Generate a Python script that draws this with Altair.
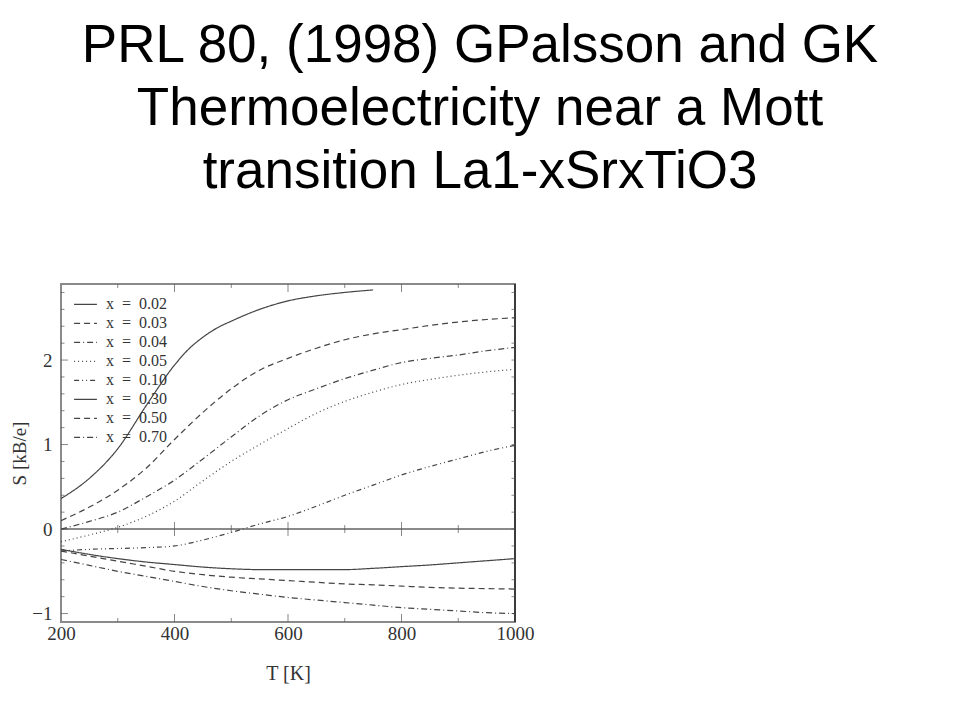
import altair as alt
import pandas as pd

# ---- data ----
T_full = [200, 250, 300, 350, 400, 450, 500, 550, 600, 650, 700, 750, 800, 850, 900, 950, 1000]
T_002 = [200, 250, 300, 350, 400, 425, 450, 475, 500, 550, 600, 650, 700, 750]

s_002 = [0.36, 0.60, 0.95, 1.46, 1.94, 2.13, 2.27, 2.38, 2.46, 2.60, 2.70, 2.76, 2.80, 2.83]
s_003 = [0.10, 0.26, 0.46, 0.72, 1.06, 1.38, 1.66, 1.88, 2.02, 2.14, 2.24, 2.31, 2.36, 2.41, 2.45, 2.48, 2.50]
s_004 = [0.00, 0.09, 0.20, 0.38, 0.58, 0.83, 1.09, 1.34, 1.53, 1.66, 1.78, 1.88, 1.97, 2.02, 2.06, 2.11, 2.15]
s_005 = [-0.15, -0.07, 0.02, 0.15, 0.33, 0.57, 0.80, 1.00, 1.19, 1.37, 1.51, 1.62, 1.71, 1.77, 1.82, 1.86, 1.89]
s_010 = [-0.26, -0.24, -0.23, -0.22, -0.20, -0.13, -0.04, 0.06, 0.15, 0.27, 0.40, 0.52, 0.64, 0.74, 0.83, 0.92, 0.99]
s_030 = [-0.24, -0.30, -0.35, -0.39, -0.42, -0.45, -0.47, -0.48, -0.48, -0.48, -0.48, -0.465, -0.445, -0.425, -0.40, -0.375, -0.35]
s_050 = [-0.26, -0.32, -0.38, -0.44, -0.50, -0.54, -0.57, -0.59, -0.61, -0.63, -0.65, -0.66, -0.675, -0.69, -0.70, -0.705, -0.71]
s_070 = [-0.36, -0.43, -0.50, -0.56, -0.62, -0.68, -0.73, -0.77, -0.81, -0.84, -0.87, -0.90, -0.93, -0.95, -0.97, -0.99, -1.00]

labels = ["x\u2002=\u20020.02", "x\u2002=\u20020.03", "x\u2002=\u20020.04", "x\u2002=\u20020.05",
          "x\u2002=\u20020.10", "x\u2002=\u20020.30", "x\u2002=\u20020.50", "x\u2002=\u20020.70"]
dashes = [[1, 0], [6, 4], [6, 3, 1, 3], [1, 3], [5, 3, 1, 3, 1, 3], [1, 0], [6, 4], [6, 3, 1, 3]]

x_tick_vals = [200, 400, 600, 800, 1000]
y_tick_vals = [-1, 0, 1, 2]
x_minor = [300, 400, 500, 600, 700, 800, 900]
x_minor_major = [0, 1, 0, 1, 0, 1, 0]
y_minor = [-1.0, -0.8, -0.6, -0.4, -0.2, 0.0, 0.2, 0.4, 0.6, 0.8, 1.0, 1.2, 1.4, 1.6,
           1.8, 2.0, 2.2, 2.4, 2.6, 2.8]

title_lines = ["PRL 80, (1998) GPalsson and GK",
               "Thermoelectricity near a Mott",
               "transition La1-xSrxTiO3"]

# ---- tables ----
series = [s_002, s_003, s_004, s_005, s_010, s_030, s_050, s_070]
rows = []
for lab, vals in zip(labels, series):
    ts = T_002 if len(vals) == len(T_002) else T_full
    for t, v in zip(ts, vals):
        rows.append({"T": t, "S": v, "series": lab})
df = pd.DataFrame(rows)

xt = pd.DataFrame({"T": x_minor, "major": x_minor_major})
xt["len_edge"] = [16 if m else 8 for m in x_minor_major]
xt["len_zero"] = [14 if m else 8 for m in x_minor_major]
yt = pd.DataFrame({"S": y_minor})
yt["len"] = [14 if abs(v - round(v)) < 1e-9 else 7 for v in y_minor]

XMIN, XMAX, YMIN, YMAX = 200, 1000, -1.1, 2.9
xs = alt.Scale(domain=[XMIN, XMAX], nice=False, zero=False)
ys = alt.Scale(domain=[YMIN, YMAX], nice=False, zero=False)
INK = "#444444"
FRAME = "#8a8a8a"
TICK = "#555555"
SERIF = "Liberation Serif"

lines = alt.Chart(df).mark_line(strokeWidth=1.2, color=INK, clip=True,
                                interpolate="monotone").encode(
    x=alt.X("T:Q", scale=xs,
            axis=alt.Axis(values=x_tick_vals, format="d", title="T [K]",
                          labelPadding=2, titlePadding=20, labelFlush=False)),
    y=alt.Y("S:Q", scale=ys,
            axis=alt.Axis(values=y_tick_vals, format="d", title="S [kB/e]",
                          labelPadding=9, titlePadding=2, titleFontSize=19)),
    strokeDash=alt.StrokeDash(
        "series:N",
        scale=alt.Scale(domain=labels, range=dashes),
        legend=alt.Legend(title=None, orient="none", legendX=12, legendY=11,
                          symbolType="stroke", symbolSize=520, symbolStrokeWidth=1.2,
                          symbolStrokeColor=INK, labelFont=SERIF, labelFontSize=16,
                          labelColor="#333333", labelOffset=8, rowPadding=0,
                          clipHeight=18.6),
    ),
    detail="series:N",
)

zero_rule = alt.Chart(pd.DataFrame({"S": [0]})).mark_rule(color=FRAME, strokeWidth=2).encode(
    y=alt.Y("S:Q", scale=ys)
)
right_edge = alt.Chart(pd.DataFrame({"T": [XMAX]})).mark_rule(color="#222222", strokeWidth=1.5).encode(
    x=alt.X("T:Q", scale=xs)
)

zero_ticks = alt.Chart(xt).mark_tick(orient="vertical", color=TICK, thickness=1).encode(
    x=alt.X("T:Q", scale=xs),
    y=alt.YDatum(0),
    size=alt.Size("len_zero:Q", scale=None, legend=None),
)
bottom_ticks = alt.Chart(xt).mark_tick(orient="vertical", color=TICK, thickness=1, clip=True).encode(
    x=alt.X("T:Q", scale=xs),
    y=alt.YDatum(YMIN),
    size=alt.Size("len_edge:Q", scale=None, legend=None),
)
top_ticks = alt.Chart(xt).mark_tick(orient="vertical", color=TICK, thickness=1, clip=True).encode(
    x=alt.X("T:Q", scale=xs),
    y=alt.YDatum(YMAX),
    size=alt.Size("len_edge:Q", scale=None, legend=None),
)
left_ticks = alt.Chart(yt).mark_tick(orient="horizontal", color=TICK, thickness=1, clip=True).encode(
    y=alt.Y("S:Q", scale=ys),
    x=alt.XDatum(XMIN),
    size=alt.Size("len:Q", scale=None, legend=None),
)
right_ticks = alt.Chart(yt).mark_tick(orient="horizontal", color=TICK, thickness=1, clip=True).encode(
    y=alt.Y("S:Q", scale=ys),
    x=alt.XDatum(XMAX),
    size=alt.value(7),
)

chart = alt.layer(
    zero_rule, right_edge, zero_ticks, bottom_ticks, top_ticks, left_ticks, right_ticks, lines
).properties(
    width=454,
    height=338,
    autosize=alt.AutoSizeParams(type="none"),
    padding={"left": 53, "top": 276, "right": 420, "bottom": 80},
    title=alt.TitleParams(
        text=title_lines, font="Liberation Sans", fontSize=53, fontWeight="normal",
        color="#000000", anchor="middle", frame="group", dx=192, offset=84,
        lineHeight=63,
    ),
).configure(
    background="white"
).configure_view(
    stroke=FRAME, strokeWidth=2
).configure_axis(
    domain=False, ticks=False, grid=False,
    labelFont=SERIF, labelFontSize=19, labelColor="#333333",
    titleFont=SERIF, titleFontSize=20, titleFontWeight="normal", titleColor="#333333",
)

chart.save("out.html", embed_options={"renderer": "svg", "actions": False})
